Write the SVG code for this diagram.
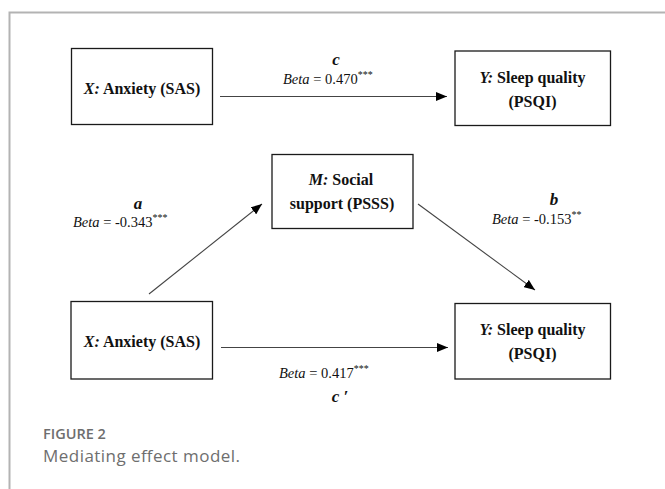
<svg xmlns="http://www.w3.org/2000/svg" width="665" height="489" viewBox="0 0 665 489">
<style>
.frame{stroke:#b3b3b3;stroke-width:2;fill:none}
.box{fill:#fff;stroke:#1a1a1a;stroke-width:1.3}
.nt{font-family:"Liberation Serif","Times New Roman",serif;font-size:16px;font-weight:bold;fill:#111;text-anchor:middle}
.lbl{font-family:"Liberation Serif","Times New Roman",serif;font-size:14.5px;fill:#111}
.sup{font-size:10px}
.let{font-family:"Liberation Serif","Times New Roman",serif;font-size:17px;font-weight:bold;font-style:italic;fill:#111;text-anchor:middle}
.con{stroke:#444;stroke-width:1.1;fill:none;marker-end:url(#ah)}
.cap1{font-family:"Open Sans",Lato,sans-serif;font-size:14.5px;font-weight:600;fill:#6e6e6e}
.cap2{font-family:"Open Sans",Lato,sans-serif;font-size:17px;fill:#6e6e6e}
</style>
<defs>
<marker id="ah" viewBox="0 0 11 9" refX="11" refY="4.5" markerWidth="11" markerHeight="9" markerUnits="userSpaceOnUse" orient="auto">
<path d="M0,0 L11,4.5 L0,9 Z" fill="#000"/>
</marker>
</defs>
<rect width="665" height="489" fill="#fff"/>
<path class="frame" d="M9.5,489 V12.5 H665"/>

<g id="connectors">
<line class="con" x1="220" y1="96.5" x2="447" y2="96.5"/>
<line class="con" x1="149" y1="294" x2="262" y2="204"/>
<line class="con" x1="418" y1="204" x2="535" y2="290"/>
<line class="con" x1="221" y1="347.5" x2="448" y2="347.5"/>
</g>

<g id="labels">
<text class="let" x="336" y="65">c</text>
<text class="lbl" x="283" y="84"><tspan font-style="italic">Beta</tspan> = 0.470<tspan class="sup" dy="-6">***</tspan></text>
<text class="let" x="138" y="209">a</text>
<text class="lbl" x="73" y="227"><tspan font-style="italic">Beta</tspan> = -0.343<tspan class="sup" dy="-6">***</tspan></text>
<text class="let" x="554" y="205">b</text>
<text class="lbl" x="492" y="224"><tspan font-style="italic">Beta</tspan> = -0.153<tspan class="sup" dy="-6">**</tspan></text>
<text class="lbl" x="279" y="378"><tspan font-style="italic">Beta</tspan> = 0.417<tspan class="sup" dy="-6">***</tspan></text>
<text class="let" x="340" y="402">c ′</text>
</g>

<g id="x-top">
<rect class="box" x="71.5" y="48.5" width="141" height="76"/>
<text class="nt" x="142" y="94"><tspan font-style="italic">X:</tspan> Anxiety (SAS)</text>
</g>
<g id="y-top">
<rect class="box" x="455" y="51" width="155.5" height="74.5"/>
<text class="nt" x="532.5" y="83"><tspan font-style="italic">Y:</tspan> Sleep quality</text>
<text class="nt" x="532.5" y="107">(PSQI)</text>
</g>
<g id="m">
<rect class="box" x="272" y="154.5" width="141" height="74"/>
<text class="nt" x="341" y="185"><tspan font-style="italic">M:</tspan>  Social</text>
<text class="nt" x="342" y="209">support (PSSS)</text>
</g>
<g id="x-bottom">
<rect class="box" x="71" y="301.5" width="141.5" height="77.5"/>
<text class="nt" x="142" y="347"><tspan font-style="italic">X:</tspan> Anxiety (SAS)</text>
</g>
<g id="y-bottom">
<rect class="box" x="455" y="303.5" width="155.5" height="75.5"/>
<text class="nt" x="532.5" y="335"><tspan font-style="italic">Y:</tspan> Sleep quality</text>
<text class="nt" x="532.5" y="359">(PSQI)</text>
</g>

<g id="caption">
<text class="cap1" x="43" y="439">FIGURE 2</text>
<text class="cap2" x="43" y="462" textLength="197" lengthAdjust="spacing">Mediating effect model.</text>
</g>
</svg>
